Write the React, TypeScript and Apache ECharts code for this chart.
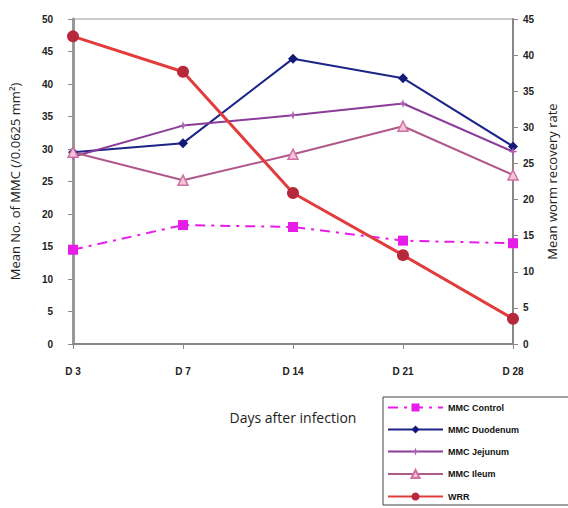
import React, { useEffect, useRef } from "react";
import * as echarts from "echarts";

const categories = ["D3", "D7", "D14", "D21", "D28"];
const mmcControl = [14.5, 18.3, 18.0, 15.9, 15.5];
const mmcDuodenum = [29.5, 30.9, 43.9, 40.9, 30.4];
const mmcJejunum = [28.8, 33.6, 35.2, 37.0, 29.6];
const mmcIleum = [29.5, 25.2, 29.2, 33.5, 26.0];
const wrr = [42.6, 37.7, 20.9, 12.3, 3.5];
const leftTicks = [0, 50, 5];
const rightTicks = [0, 45, 5];

export default function App() {
  const ref = useRef<HTMLDivElement>(null);
  useEffect(() => {
    const chart = echarts.init(ref.current!, null, { renderer: "svg" });
    const labelStyle = {
      color: "#222",
      fontSize: 10,
      fontWeight: "bold" as const,
      fontFamily: "Liberation Sans, Arial, sans-serif",
    };
    const axisLine = { show: true, lineStyle: { color: "#888", width: 2 } };
    const tick = { show: true, inside: false, length: 5, lineStyle: { color: "#888" } };
    chart.setOption({
      animation: false,
      backgroundColor: "#fff",
      grid: {
        left: 68,
        right: 55,
        top: 19,
        bottom: 164,
        show: true,
        borderColor: "#999",
        borderWidth: 1,
      },
      legend: {
        orient: "vertical",
        left: 383,
        top: 397,
        itemWidth: 55,
        itemHeight: 10,
        itemGap: 13,
        padding: [6, 50, 4, 4],
        borderColor: "#444",
        borderWidth: 1,
        backgroundColor: "#fff",
        textStyle: { ...labelStyle, fontSize: 9, color: "#111" },
        data: ["MMC Control", "MMC Duodenum", "MMC Jejunum", "MMC Ileum", "WRR"],
      },
      xAxis: {
        type: "category",
        data: categories,
        boundaryGap: false,
        axisLine,
        axisTick: { ...tick, alignWithLabel: true },
        axisLabel: { ...labelStyle, margin: 22, formatter: (v: string) => v.replace("D", "D ") },
        name: "Days after infection",
        nameLocation: "middle",
        nameGap: 66,
        nameTextStyle: { fontSize: 14, color: "#222", fontFamily: "Open Sans, sans-serif" },
      },
      yAxis: [
        {
          type: "value",
          min: leftTicks[0],
          max: leftTicks[1],
          interval: leftTicks[2],
          axisLine: { show: true, lineStyle: { color: "#999", width: 3 } },
          axisTick: tick,
          splitLine: { show: false },
          axisLabel: { ...labelStyle, margin: 20 },
          name: "Mean No. of MMC (/0.0625 mm²)",
          nameLocation: "middle",
          nameGap: 52,
          nameTextStyle: { fontSize: 13, color: "#222", fontFamily: "Open Sans, sans-serif" },
        },
        {
          type: "value",
          min: rightTicks[0],
          max: rightTicks[1],
          interval: rightTicks[2],
          position: "right",
          axisLine,
          axisTick: tick,
          splitLine: { show: false },
          axisLabel: { ...labelStyle, margin: 10 },
          name: "Mean worm recovery rate",
          nameLocation: "middle",
          nameGap: 29,
          nameRotate: 90,
          nameTextStyle: { fontSize: 13, color: "#222", fontFamily: "Open Sans, sans-serif" },
        },
      ],
      series: [
        {
          name: "MMC Control",
          type: "line",
          data: mmcControl,
          yAxisIndex: 0,
          symbol: "rect",
          symbolSize: 10,
          itemStyle: { color: "#e81ce8" },
          lineStyle: { color: "#e81ce8", width: 2, type: [10, 6, 3, 6] },
        },
        {
          name: "MMC Duodenum",
          type: "line",
          data: mmcDuodenum,
          yAxisIndex: 0,
          symbol: "diamond",
          symbolSize: 10,
          itemStyle: { color: "#141a7a" },
          lineStyle: { color: "#1c2488", width: 2 },
        },
        {
          name: "MMC Jejunum",
          type: "line",
          data: mmcJejunum,
          yAxisIndex: 0,
          symbol: "path://M0,-10L2.5,-2.5L10,0L2.5,2.5L0,10L-2.5,2.5L-10,0L-2.5,-2.5Z",
          symbolSize: 9,
          itemStyle: { color: "#b060b0" },
          lineStyle: { color: "#8a3c98", width: 2 },
        },
        {
          name: "MMC Ileum",
          type: "line",
          data: mmcIleum,
          yAxisIndex: 0,
          symbol: "triangle",
          symbolSize: 10,
          itemStyle: { color: "#f4c4dc", borderColor: "#d070a0", borderWidth: 1.5 },
          lineStyle: { color: "#b0588a", width: 2 },
        },
        {
          name: "WRR",
          type: "line",
          data: wrr,
          yAxisIndex: 1,
          symbol: "circle",
          symbolSize: 12,
          itemStyle: { color: "#b8283c" },
          lineStyle: { color: "#e23c3c", width: 3 },
        },
      ],
    });
    return () => chart.dispose();
  }, []);
  return <div ref={ref} style={{ width: 568, height: 508, position: "absolute", left: 0, top: 0 }} />;
}
